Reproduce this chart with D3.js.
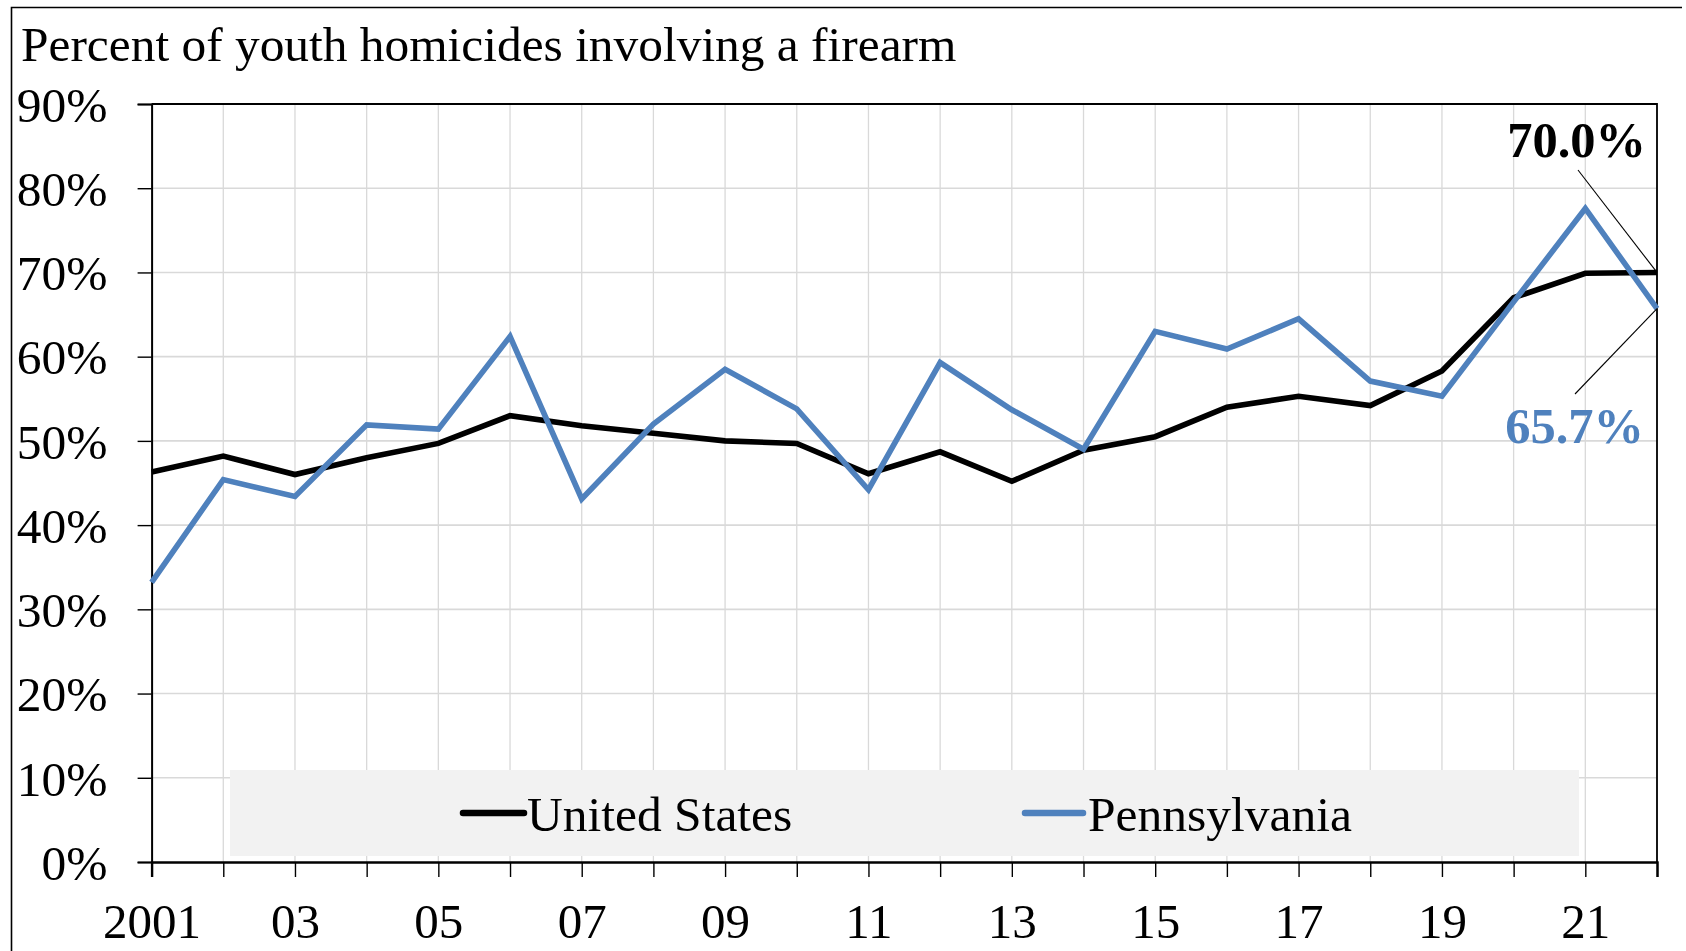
<!DOCTYPE html>
<html lang="en">
<head>
<meta charset="utf-8">
<title>Youth homicides involving a firearm</title>
<script src="https://cdn.jsdelivr.net/npm/d3@7"></script>
<style>
  html, body { margin: 0; padding: 0; background: #fff; overflow: hidden; }
  text { font-family: "Liberation Serif", "Times New Roman", serif; }
</style>
</head>
<body>
<div id="chart"></div>
<script>
// years on the x axis
var years = d3.range(2001, 2023);
// percent of youth homicides involving a firearm
var usValues = [46.3, 48.2, 46.0, 48.0, 49.7, 53.0, 51.8, 50.9, 50.0, 49.7,
                46.1, 48.7, 45.2, 48.9, 50.5, 54.0, 55.3, 54.2, 58.3, 67.0, 69.9, 70.0];
var paValues = [33.2, 45.4, 43.4, 51.9, 51.4, 62.4, 43.1, 52.0, 58.5, 53.8,
                44.2, 59.3, 53.7, 49.0, 63.0, 60.9, 64.5, 57.1, 55.3, 66.5, 77.6, 65.7];
var seriesNames = ["United States", "Pennsylvania"];
var yTicks = [0, 10, 20, 30, 40, 50, 60, 70, 80, 90];
var chartTitle = "Percent of youth homicides involving a firearm";

var W = 1686, H = 951;
var pLeft = 151.6, pRight = 1657, pTop = 104, pBottom = 862;
var blue = "#4f81bd";

var svg = d3.select("#chart").append("svg")
    .attr("width", W).attr("height", H);

var x = d3.scaleLinear().domain([2001, 2022]).range([pLeft, pRight]);
var y = d3.scaleLinear().domain([0, 90]).range([pBottom, pTop]);

// outer frame
svg.append("path")
    .attr("d", "M11.5," + H + " V7.5 H1682")
    .attr("fill", "none").attr("stroke", "#000").attr("stroke-width", 1.6);

// title
svg.append("text")
    .attr("x", 21).attr("y", 61)
    .attr("font-size", 49.4)
    .attr("fill", "#000")
    .text(chartTitle);

// gridlines
svg.append("g").selectAll("line")
    .data(years.slice(1))
    .enter().append("line")
    .attr("x1", function(d){ return x(d); }).attr("x2", function(d){ return x(d); })
    .attr("y1", pTop).attr("y2", pBottom)
    .attr("stroke", "#d9d9d9").attr("stroke-width", 1.3);
svg.append("g").selectAll("line")
    .data(yTicks.slice(1))
    .enter().append("line")
    .attr("x1", pLeft).attr("x2", pRight)
    .attr("y1", function(d){ return y(d); }).attr("y2", function(d){ return y(d); })
    .attr("stroke", "#d9d9d9").attr("stroke-width", 1.6);

// plot frame top / right
svg.append("path")
    .attr("d", "M" + pLeft + "," + pTop + " H" + pRight + " V" + pBottom)
    .attr("fill", "none").attr("stroke", "#000").attr("stroke-width", 1.8);

// legend box
svg.append("rect")
    .attr("x", 230).attr("y", 770).attr("width", 1349).attr("height", 86)
    .attr("fill", "#f2f2f2");

// axes
var yAxis = svg.append("g")
    .attr("transform", "translate(" + pLeft + ",0)")
    .call(d3.axisLeft(y).tickValues(yTicks).tickSize(14).tickPadding(30)
          .tickFormat(function(d){ return d + "%"; }));
yAxis.select(".domain").attr("stroke", "#000").attr("stroke-width", 2);
yAxis.selectAll(".tick line").attr("stroke", "#000").attr("stroke-width", 1.4);
yAxis.selectAll("text")
    .attr("font-size", 49.5).attr("fill", "#000")
    .attr("font-family", "Liberation Serif, serif")
    .attr("dy", "0.35em");

var xAxis = svg.append("g")
    .attr("transform", "translate(0," + pBottom + ")")
    .call(d3.axisBottom(x).tickValues(years).tickSize(15).tickPadding(26)
          .tickFormat(function(d){
            if ((d - 2001) % 2 !== 0) return "";
            return d === 2001 ? "2001" : String(d).slice(2);
          }));
xAxis.select(".domain").attr("stroke", "#000").attr("stroke-width", 2.4);
xAxis.selectAll(".tick line").attr("stroke", "#000").attr("stroke-width", 1.4);
xAxis.selectAll("text")
    .attr("font-size", 49).attr("fill", "#000")
    .attr("font-family", "Liberation Serif, serif");

// lines
var line = d3.line()
    .x(function(d, i){ return x(years[i]); })
    .y(function(d){ return y(d); });

svg.append("path").datum(usValues)
    .attr("d", line).attr("fill", "none")
    .attr("stroke", "#000").attr("stroke-width", 5.6)
    .attr("stroke-linejoin", "miter");
svg.append("path").datum(paValues)
    .attr("d", line).attr("fill", "none")
    .attr("stroke", blue).attr("stroke-width", 5.6)
    .attr("stroke-linejoin", "miter");

// end labels with leader lines
var lastYear = years[years.length - 1];
var usLast = usValues[usValues.length - 1];
var paLast = paValues[paValues.length - 1];

svg.append("line")
    .attr("x1", 1578).attr("y1", 170)
    .attr("x2", x(lastYear)).attr("y2", y(usLast))
    .attr("stroke", "#000").attr("stroke-width", 1.1);
svg.append("text")
    .attr("x", 1646).attr("y", 157)
    .attr("text-anchor", "end")
    .attr("font-size", 50.5).attr("font-weight", "bold").attr("fill", "#000")
    .text(usLast.toFixed(1) + "%");

svg.append("line")
    .attr("x1", 1575).attr("y1", 394)
    .attr("x2", x(lastYear)).attr("y2", y(paLast))
    .attr("stroke", "#000").attr("stroke-width", 1.1);
svg.append("text")
    .attr("x", 1644).attr("y", 443)
    .attr("text-anchor", "end")
    .attr("font-size", 50.5).attr("font-weight", "bold").attr("fill", blue)
    .text(paLast.toFixed(1) + "%");

// legend entries
var legendItems = [
  { name: seriesNames[0], color: "#000", x0: 463, x1: 524, tx: 527 },
  { name: seriesNames[1], color: blue, x0: 1025, x1: 1083, tx: 1088 }
];
legendItems.forEach(function(it){
  svg.append("line")
      .attr("x1", it.x0).attr("x2", it.x1).attr("y1", 813).attr("y2", 813)
      .attr("stroke", it.color).attr("stroke-width", 6.5)
      .attr("stroke-linecap", "round");
  svg.append("text")
      .attr("x", it.tx).attr("y", 831)
      .attr("font-size", 49.5).attr("fill", "#000")
      .text(it.name);
});
</script>
</body>
</html>
